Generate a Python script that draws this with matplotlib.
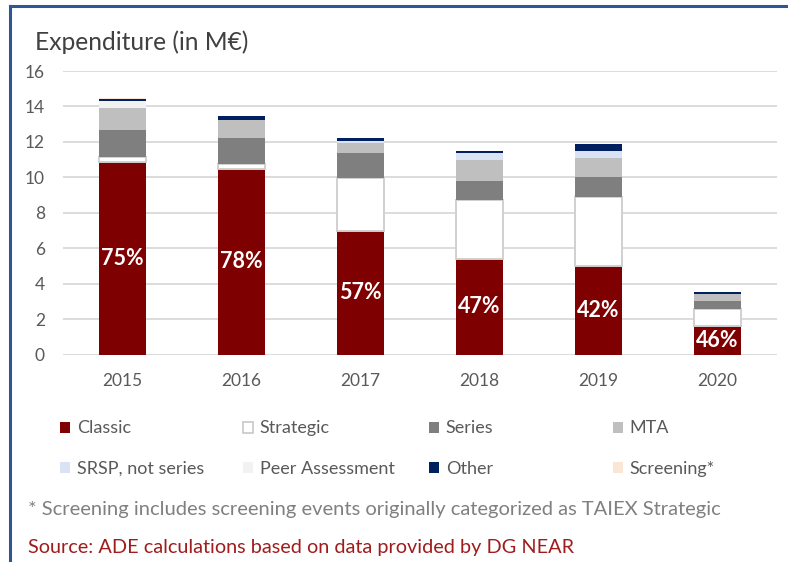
import matplotlib
matplotlib.use("Agg")
import matplotlib.pyplot as plt
from matplotlib.patches import Patch
from matplotlib.lines import Line2D
import numpy as np

plt.rcParams['font.family'] = ['Lato', 'DejaVu Sans']

years = ["2015", "2016", "2017", "2018", "2019", "2020"]
classic = [10.88, 10.47, 6.97, 5.39, 4.99, 1.61]
strategic = [0.28, 0.28, 3.01, 3.33, 3.91, 0.95]
series = [1.51, 1.48, 1.37, 1.09, 1.13, 0.47]
mta = [1.22, 1.00, 0.60, 1.17, 1.07, 0.37]
srsp = [0.00, 0.00, 0.10, 0.37, 0.40, 0.00]
peer = [0.43, 0.00, 0.00, 0.00, 0.00, 0.00]
other = [0.12, 0.23, 0.18, 0.12, 0.38, 0.10]
screening = [0.03, 0.02, 0.00, 0.00, 0.00, 0.00]
share_labels = ["75%", "78%", "57%", "47%", "42%", "46%"]
yticks = [0, 2, 4, 6, 8, 10, 12, 14, 16]

series_list = [
    ("Classic", classic, "#7f0000"),
    ("Strategic", strategic, "#ffffff"),
    ("Series", series, "#7f7f7f"),
    ("MTA", mta, "#bfbfbf"),
    ("SRSP, not series", srsp, "#dae3f3"),
    ("Peer Assessment", peer, "#f2f2f2"),
    ("Other", other, "#002060"),
    ("Screening*", screening, "#fbe5d6"),
]

W, H = 788, 562
fig = plt.figure(figsize=(W / 100, H / 100), dpi=100)
ax = fig.add_axes([63 / W, 1 - 354.5 / H, (777 - 63) / W, (354.5 - 71) / H])

x = np.arange(len(years))
bottom = np.zeros(len(years))
width = 0.40
for name, vals, col in series_list:
    vals = np.array(vals)
    if name == "Strategic":
        ax.bar(x, vals, width, bottom=bottom, color=col, edgecolor="#d0d0d0",
               linewidth=1.4, zorder=3)
    else:
        ax.bar(x, vals, width, bottom=bottom, color=col, edgecolor="none",
               linewidth=0, zorder=3)
    if name == "Classic":
        for xi, v, lab in zip(x, vals, share_labels):
            ax.text(xi, v / 2, lab, ha="center", va="center", color="white",
                    fontsize=15.5, fontweight="bold", zorder=5)
    bottom += vals

ax.set_xlim(-0.5, len(years) - 0.5)
ax.set_ylim(0, 16)
ax.set_yticks(yticks)
ax.set_yticklabels([str(t) for t in yticks])
ax.set_xticks(x)
ax.set_xticklabels(years)
ax.tick_params(axis="both", length=0, labelsize=12.5, labelcolor="#595959")
ax.tick_params(axis="x", pad=13)
ax.tick_params(axis="y", pad=13)
ax.grid(axis="y", color="#d9d9d9", linewidth=1.3, zorder=0)
ax.set_axisbelow(True)
for s in ax.spines.values():
    s.set_visible(False)

fig.text(35 / W, 1 - 42 / H, "Expenditure (in M€)", fontsize=17.7, color="#404040",
         ha="left", va="center")

# legend in four columns
col_x = [60, 243, 429, 613]
for c in range(4):
    handles = []
    for r in range(2):
        name, vals, col = series_list[r * 4 + c]
        if name == "Strategic":
            handles.append(Patch(facecolor="white", edgecolor="#c8c8c8", linewidth=1.2, label=name))
        else:
            handles.append(Patch(facecolor=col, edgecolor="none", label=name))
    fig.legend(handles=handles, loc="center left",
               bbox_to_anchor=(col_x[c] / W, 1 - 448.5 / H),
               frameon=False, fontsize=13, handlelength=0.58, handleheight=0.58,
               handletextpad=0.35, labelspacing=1.33, borderpad=0, borderaxespad=0,
               labelcolor="#595959")

fig.text(28 / W, 1 - 510 / H,
         "* Screening includes screening events originally categorized as TAIEX Strategic",
         fontsize=14.5, color="#808080", ha="left", va="center")
fig.text(28 / W, 1 - 548 / H,
         "Source: ADE calculations based on data provided by DG NEAR",
         fontsize=14.3, color="#a01c1c", ha="left", va="center")

# frame lines (top and left)
fig.add_artist(Line2D([10 / W, 1], [1 - 6 / H, 1 - 6 / H], transform=fig.transFigure,
                      color="#2f5597", linewidth=2.2))
fig.add_artist(Line2D([10 / W, 10 / W], [1 - 6 / H, 0], transform=fig.transFigure,
                      color="#2f5597", linewidth=2.2))

fig.savefig("out.png", dpi=100)
